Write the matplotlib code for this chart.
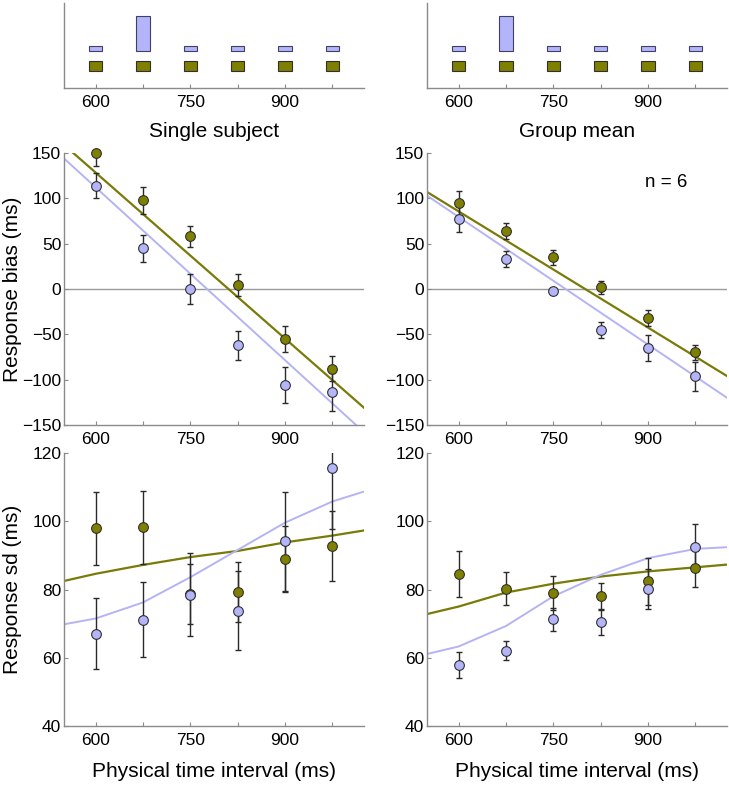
import matplotlib.pyplot as plt
import numpy as np

# x positions (ms)
intervals = [600, 675, 750, 825, 900, 975]
tick_labels = ['600', '', '750', '', '900', '']

# sampling probability of each interval (top panels)
prob_uniform = [0.167, 0.167, 0.167, 0.167, 0.167, 0.167]
prob_peaked = [0.083, 0.583, 0.083, 0.083, 0.083, 0.083]

# response bias (ms) with error bars
bias_single_olive = [150, 98, 58, 4, -55, -88]
bias_single_olive_err = [14, 15, 12, 12, 14, 14]
bias_single_blue = [114, 45, 0, -62, -106, -114]
bias_single_blue_err = [14, 15, 17, 16, 20, 21]
bias_group_olive = [95, 64, 35, 2, -32, -70]
bias_group_olive_err = [13, 9, 8, 7, 9, 8]
bias_group_blue = [77, 33, -2, -45, -65, -96]
bias_group_blue_err = [14, 9, 2, 9, 14, 16]

# linear fits for bias, value at both ends of the x range
fit_x_ends = [550, 1025]
fit_bias_single_olive = [159, -131]
fit_bias_single_blue = [144, -158]
fit_bias_group_olive = [107, -96]
fit_bias_group_blue = [103, -120]

# response sd (ms) with error bars
sd_single_olive = [97.9, 98.2, 78.7, 79.3, 89.0, 92.7]
sd_single_olive_err = [10.7, 10.8, 8.7, 8.7, 9.7, 10.2]
sd_single_blue = [67.1, 71.2, 78.5, 73.8, 94.1, 115.5]
sd_single_blue_err = [10.4, 11.0, 12.2, 11.5, 14.6, 17.9]
sd_group_olive = [84.5, 80.2, 79.1, 78.0, 82.4, 86.2]
sd_group_olive_err = [6.8, 4.8, 5.0, 3.9, 6.9, 5.5]
sd_group_blue = [57.9, 62.1, 71.3, 70.6, 80.2, 92.6]
sd_group_blue_err = [3.9, 2.8, 3.4, 3.8, 5.8, 6.5]

# model curves for sd
fit_sd_x = [550, 600, 675, 750, 825, 900, 975, 1025]
fit_sd_single_olive = [82.5, 84.6, 87.2, 89.5, 91.3, 93.8, 95.8, 97.3]
fit_sd_single_blue = [69.8, 71.5, 76.2, 83.6, 91.6, 99.6, 105.8, 108.7]
fit_sd_group_olive = [72.8, 75.0, 79.1, 81.7, 83.8, 85.3, 86.5, 87.3]
fit_sd_group_blue = [61.1, 63.3, 69.3, 78.0, 84.3, 89.2, 91.9, 92.4]

OLIVE = '#7f7f00'
OLIVE_LINE = '#7a7a08'
BLUE = '#b4b4fa'
BLUE_LINE = '#b4b4f4'
SPINE = '#8a8a8a'
TICK_FS = 12.5
LABEL_FS = 15

plt.rcParams['font.family'] = ['Liberation Sans', 'DejaVu Sans']
plt.rcParams['font.size'] = TICK_FS


def style(ax):
    for s in ['top', 'right']:
        ax.spines[s].set_visible(False)
    for s in ['left', 'bottom']:
        ax.spines[s].set_color(SPINE)
        ax.spines[s].set_linewidth(1.0)
    ax.tick_params(direction='in', length=3, width=0.8, color=SPINE,
                   labelsize=TICK_FS)
    ax.tick_params(axis='x', pad=5)
    ax.tick_params(axis='y', pad=2)
    ax.set_xlim(550, 1025)
    ax.set_xticks(intervals, tick_labels)


def points(ax, y, err, color):
    ax.errorbar(intervals, y, yerr=err, fmt='none', ecolor='#2a2a2a',
                elinewidth=1.0, capsize=2.5, capthick=1.0, zorder=3)
    ax.plot(intervals, y, 'o', ms=7, mfc=color, mec='#303030', mew=0.8,
            clip_on=False, zorder=4)


fig = plt.figure(figsize=(7.29, 7.85), dpi=100)
lefts = [64 / 729, 427 / 729]
w = 300 / 729

# top row: interval distributions
for i, title in enumerate(['Single subject', 'Group mean']):
    ax = fig.add_axes([lefts[i], 1 - 88 / 785, w, 85 / 785])
    style(ax)
    ax.set_ylim(0, 1)
    ax.set_yticks([])
    ax.bar(intervals, np.array(prob_uniform) * 0.7, width=21, bottom=0.2,
           color=OLIVE, edgecolor='#303030', linewidth=0.8)
    ax.bar(intervals, np.array(prob_peaked) * 0.7, width=21, bottom=0.435,
           color=BLUE, edgecolor='#404060', linewidth=0.8)
    ax.set_xlabel(title, fontsize=LABEL_FS, labelpad=9)

# middle row: response bias
bias_sets = [
    (bias_single_olive, bias_single_olive_err, bias_single_blue, bias_single_blue_err,
     fit_bias_single_olive, fit_bias_single_blue),
    (bias_group_olive, bias_group_olive_err, bias_group_blue, bias_group_blue_err,
     fit_bias_group_olive, fit_bias_group_blue),
]
for i, (yo, eo, yb, eb, fo, fb) in enumerate(bias_sets):
    ax = fig.add_axes([lefts[i], 1 - 425 / 785, w, 272 / 785])
    style(ax)
    ax.set_ylim(-150, 150)
    ax.set_yticks(np.arange(-150, 151, 50))
    ax.axhline(0, color='#9a9a9a', lw=1.0, zorder=1)
    ax.plot(fit_x_ends, fo, color=OLIVE_LINE, lw=1.6, zorder=2)
    ax.plot(fit_x_ends, fb, color=BLUE_LINE, lw=1.4, zorder=2)
    points(ax, yo, eo, OLIVE)
    points(ax, yb, eb, BLUE)
    if i == 0:
        ax.set_ylabel('Response bias (ms)', fontsize=LABEL_FS)
        ax.yaxis.set_label_coords(-0.14, 0.5)
    else:
        ax.text(929, 118, 'n = 6', ha='center', va='center', fontsize=13.5)

# bottom row: response sd
sd_sets = [
    (sd_single_olive, sd_single_olive_err, sd_single_blue, sd_single_blue_err,
     fit_sd_single_olive, fit_sd_single_blue),
    (sd_group_olive, sd_group_olive_err, sd_group_blue, sd_group_blue_err,
     fit_sd_group_olive, fit_sd_group_blue),
]
for i, (yo, eo, yb, eb, fo, fb) in enumerate(sd_sets):
    ax = fig.add_axes([lefts[i], 1 - 726 / 785, w, 273 / 785])
    style(ax)
    ax.set_ylim(40, 120)
    ax.set_yticks(np.arange(40, 121, 20))
    ax.plot(fit_sd_x, fo, color=OLIVE_LINE, lw=1.6, zorder=2)
    ax.plot(fit_sd_x, fb, color=BLUE_LINE, lw=1.4, zorder=2)
    points(ax, yo, eo, OLIVE)
    points(ax, yb, eb, BLUE)
    ax.set_xlabel('Physical time interval (ms)', fontsize=LABEL_FS, labelpad=10)
    if i == 0:
        ax.set_ylabel('Response sd (ms)', fontsize=LABEL_FS)
        ax.yaxis.set_label_coords(-0.14, 0.5)

fig.savefig('out.png', dpi=100)
